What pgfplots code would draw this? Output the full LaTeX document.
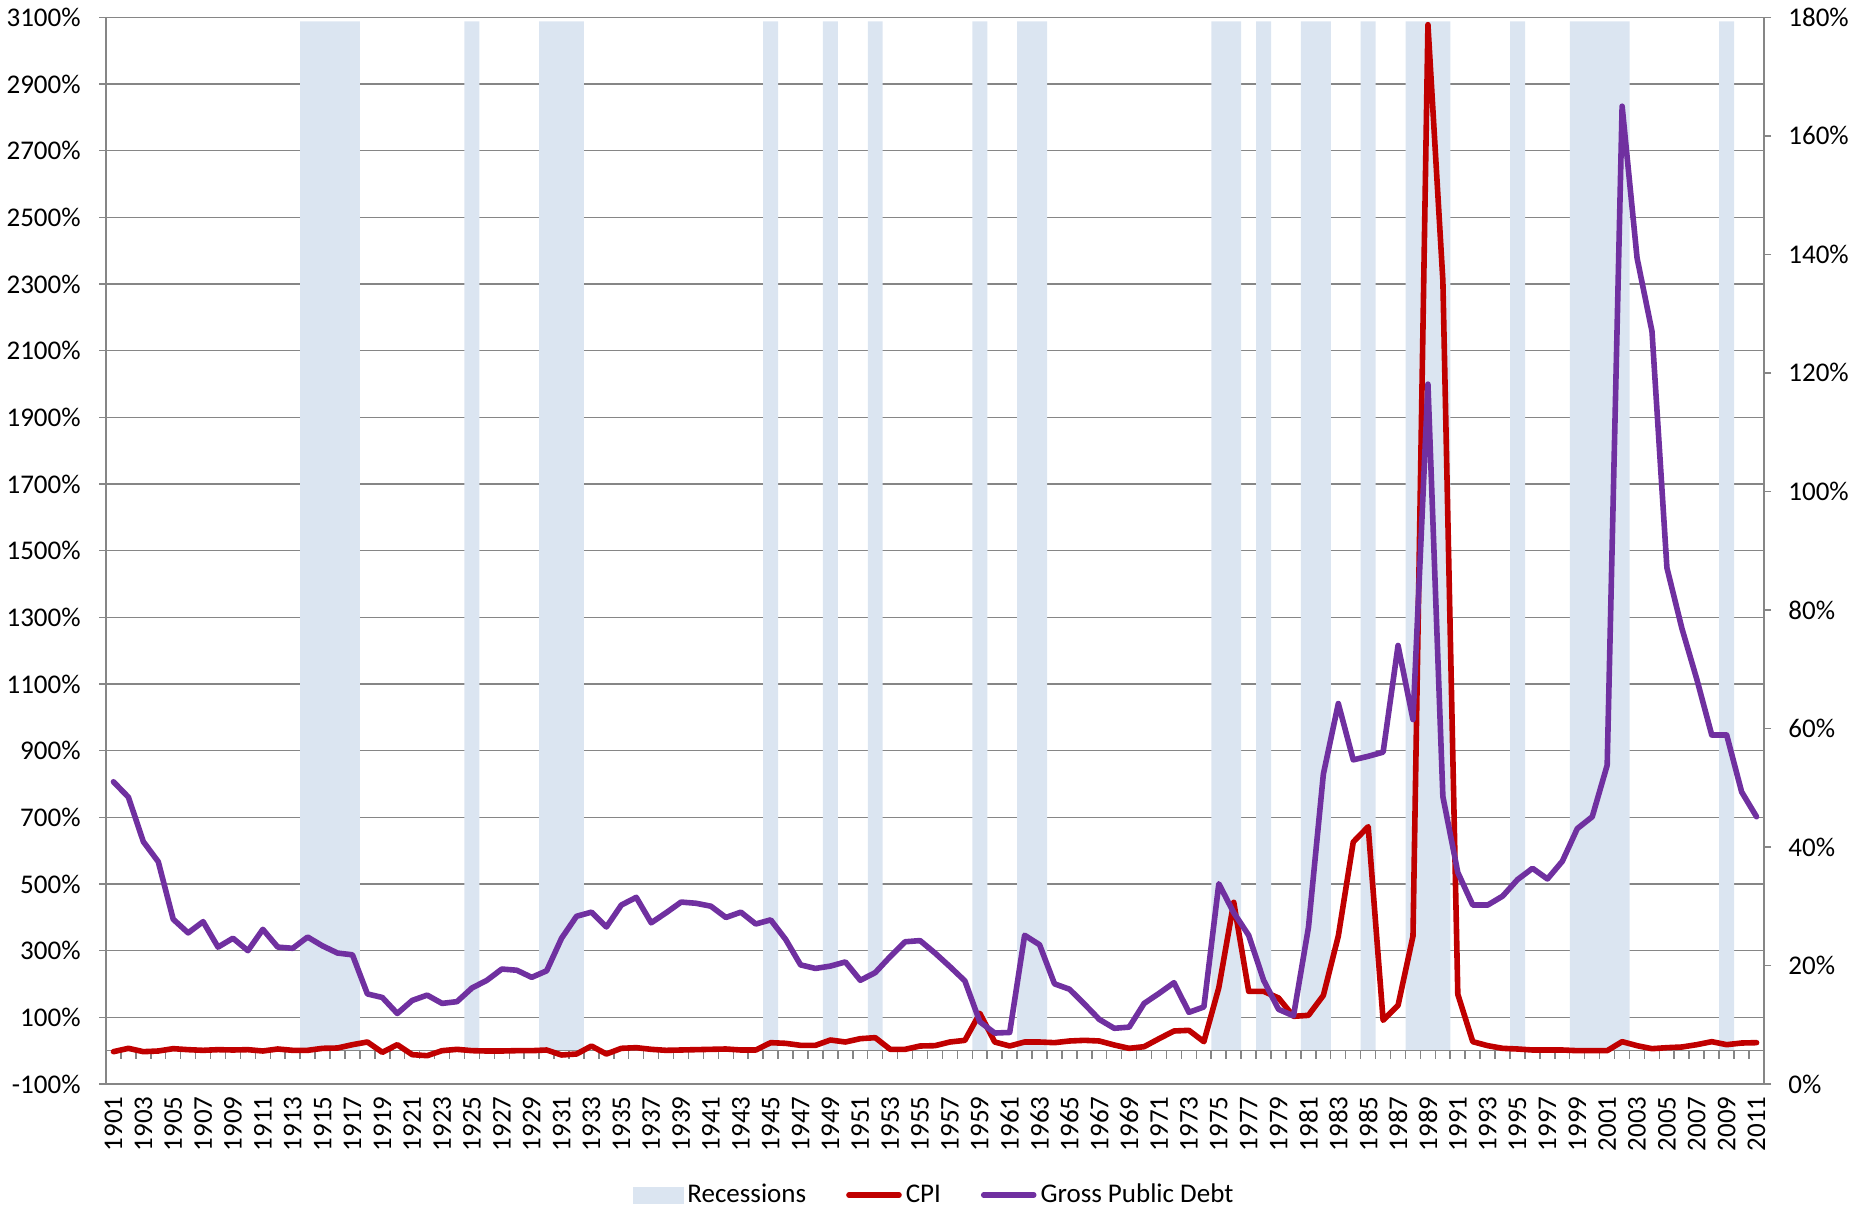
\documentclass[border=0pt]{standalone}
\usepackage{fontspec}
\setmainfont{Carlito}
\usepackage{pgfplots}
\pgfplotsset{compat=1.18}
\definecolor{cpi}{RGB}{192,0,0}
\definecolor{debt}{RGB}{112,48,160}
\definecolor{rec}{RGB}{219,229,241}
\definecolor{gridc}{RGB}{134,134,134}
\newcommand{\lblfont}{\fontsize{13.5}{16}\selectfont}

\begin{document}
\begin{tikzpicture}
\useasboundingbox (-53pt,-63pt) rectangle (883pt,542pt);
% ---------- Axis A: grid, left axis, recession bars, year labels
\begin{axis}[
  at={(0pt,0pt)}, anchor=south west,
  scale only axis, width=829pt, height=533.333pt,
  xmin=1900.5, xmax=2011.5, ymin=-100, ymax=3100,
  axis x line*=bottom, axis y line*=left,
  x axis line style={draw=none},
  y axis line style={draw=gridc, line width=0.75pt},
  ytick={-100,100,...,3100},
  yticklabels={-100\%,100\%,300\%,500\%,700\%,900\%,1100\%,1300\%,1500\%,1700\%,1900\%,2100\%,2300\%,2500\%,2700\%,2900\%,3100\%},
  ymajorgrids, grid style={draw=gridc, line width=0.75pt},
  ytick style={draw=gridc, line width=0.75pt},
  xtick style={draw=none},
  tick align=outside, major tick length=3.5pt,
  yticklabel style={font=\lblfont, anchor=east, inner sep=0pt, xshift=-9pt},
  xtick={1901,1903,...,2011},
  xticklabels={1901,1903,1905,1907,1909,1911,1913,1915,1917,1919,1921,1923,1925,1927,1929,1931,1933,1935,1937,1939,1941,1943,1945,1947,1949,1951,1953,1955,1957,1959,1961,1963,1965,1967,1969,1971,1973,1975,1977,1979,1981,1983,1985,1987,1989,1991,1993,1995,1997,1999,2001,2003,2005,2007,2009,2011},
  xticklabel style={font=\lblfont, yshift=-2.5pt, rotate=90, anchor=east, inner sep=0pt},
]
\addplot[ybar, bar width=1, bar shift=0pt, fill=rec, draw=none] coordinates {
(1914,3088) (1915,3088) (1916,3088) (1917,3088) (1925,3088)
(1930,3088) (1931,3088) (1932,3088) (1945,3088) (1949,3088)
(1952,3088) (1959,3088) (1962,3088) (1963,3088) (1975,3088)
(1976,3088) (1978,3088) (1981,3088) (1982,3088) (1985,3088)
(1988,3088) (1989,3088) (1990,3088) (1995,3088) (1999,3088)
(2000,3088) (2001,3088) (2002,3088) (2009,3088)};
\end{axis}
% ---------- Axis B: zero line with ticks, CPI
\begin{axis}[
  at={(0pt,16.6667pt)}, anchor=south west,
  scale only axis, width=829pt, height=516.667pt,
  xmin=1900.5, xmax=2011.5, ymin=0, ymax=3100,
  clip=false,
  axis x line*=bottom, axis y line=none,
  x axis line style={draw=gridc, line width=0.75pt},
  xtick={1900.5,1901.5,...,2011.5}, xticklabels={},
  xtick style={draw=gridc, line width=0.75pt},
  tick align=outside, major tick length=4pt,
]
\addplot[cpi, line width=2.8pt, line join=round, line cap=round, no marks] table {
x y
1901 -3
1902 7
1903 -3
1904 -1
1905 6
1906 3
1907 1
1908 3
1909 2
1910 3
1911 -1
1912 5
1913 1
1914 1
1915 7
1916 8
1917 18
1918 26
1919 -5
1920 18
1921 -12
1922 -15
1923 0
1924 4
1925 0
1926 -1
1927 -1
1928 0
1929 0
1930 2
1931 -13
1932 -10
1933 14
1934 -10
1935 7
1936 9
1937 4
1938 1
1939 2
1940 3
1941 4
1942 5
1943 2
1944 2
1945 24
1946 22
1947 16
1948 16
1949 32
1950 26
1951 36
1952 39
1953 4
1954 4
1955 14
1956 15
1957 26
1958 31
1959 112
1960 26
1961 14
1962 26
1963 26
1964 24
1965 29
1966 31
1967 29
1968 17
1969 7
1970 12
1971 36
1972 59
1973 61
1974 27
1975 189
1976 445
1977 178
1978 178
1979 158
1980 103
1981 106
1982 166
1983 344
1984 626
1985 672
1986 91
1987 136
1988 344
1989 3078
1990 2310
1991 169
1992 27
1993 15
1994 7
1995 5
1996 2
1997 2
1998 2
1999 0
2000 0
2001 0
2002 27
2003 15
2004 6
2005 9
2006 11
2007 18
2008 27
2009 18
2010 23
2011 24
};
\end{axis}
% ---------- Axis C: right axis, gross public debt, legend
\begin{axis}[
  at={(0pt,0pt)}, anchor=south west,
  scale only axis, width=829pt, height=533.333pt,
  xmin=1900.5, xmax=2011.5, ymin=0, ymax=180,
  axis y line*=right, axis x line=none,
  y axis line style={draw=gridc, line width=0.75pt},
  ytick={0,20,...,180},
  yticklabels={0\%,20\%,40\%,60\%,80\%,100\%,120\%,140\%,160\%,180\%},
  ytick style={draw=gridc, line width=0.75pt},
  tick align=outside, major tick length=3.5pt,
  yticklabel style={font=\lblfont, anchor=west, inner sep=0pt, xshift=8.5pt},
  legend style={at={(0.5,-0.104)}, anchor=center, draw=none, fill=none,
    font=\lblfont, legend columns=3, inner sep=0pt,
    /tikz/every even column/.append style={column sep=18pt}},
  legend cell align=left,
]
\addlegendimage{legend image code/.code={\fill[rec] (2pt,-4pt) rectangle (27pt,4pt);}}
\addlegendentry{Recessions}
\addlegendimage{legend image code/.code={\draw[cpi, line width=2.8pt, line cap=round] (0pt,0pt) -- (25pt,0pt);}}
\addlegendentry{CPI}
\addplot[debt, line width=2.8pt, line join=round, line cap=round, no marks,
  legend image code/.code={\draw[debt, line width=2.8pt, line cap=round] (0pt,0pt) -- (25pt,0pt);}] table {
x y
1901 51.0
1902 48.4
1903 40.9
1904 37.5
1905 27.8
1906 25.5
1907 27.4
1908 23.1
1909 24.6
1910 22.5
1911 26.1
1912 23.1
1913 22.9
1914 24.8
1915 23.3
1916 22.1
1917 21.8
1918 15.2
1919 14.6
1920 11.9
1921 14.1
1922 15.0
1923 13.6
1924 13.9
1925 16.2
1926 17.5
1927 19.4
1928 19.2
1929 18.0
1930 19.1
1931 24.6
1932 28.3
1933 29.0
1934 26.5
1935 30.2
1936 31.5
1937 27.2
1938 28.9
1939 30.7
1940 30.5
1941 30.0
1942 28.1
1943 29.0
1944 27.0
1945 27.7
1946 24.4
1947 20.1
1948 19.5
1949 19.9
1950 20.6
1951 17.5
1952 18.8
1953 21.5
1954 24.0
1955 24.2
1956 22.1
1957 19.8
1958 17.4
1959 10.5
1960 8.6
1961 8.7
1962 25.1
1963 23.5
1964 16.9
1965 16.0
1966 13.5
1967 10.9
1968 9.4
1969 9.6
1970 13.6
1971 15.3
1972 17.1
1973 12.1
1974 13.0
1975 33.8
1976 28.9
1977 25.1
1978 17.5
1979 12.6
1980 11.5
1981 26.4
1982 52.3
1983 64.2
1984 54.7
1985 55.3
1986 56.0
1987 74.0
1988 61.5
1989 118.1
1990 48.5
1991 35.7
1992 30.2
1993 30.2
1994 31.7
1995 34.5
1996 36.4
1997 34.6
1998 37.6
1999 43.1
2000 45.1
2001 53.8
2002 165.0
2003 139.4
2004 127.0
2005 87.1
2006 76.9
2007 68.3
2008 58.9
2009 58.9
2010 49.3
2011 45.1
};
\addlegendentry{Gross Public Debt}
\end{axis}
\end{tikzpicture}
\end{document}
